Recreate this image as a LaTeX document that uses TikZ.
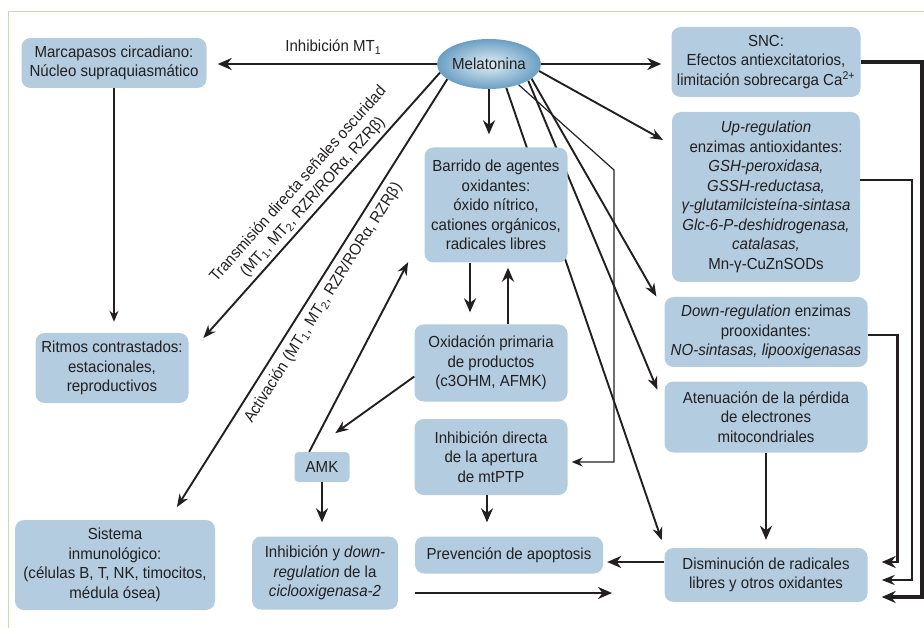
\documentclass[tikz,border=0pt]{standalone}
\usepackage{fontspec}
\setmainfont{Liberation Sans}[FakeStretch=0.94]
\usepackage{tikz}
\usetikzlibrary{arrows.meta,positioning,calc,shapes.geometric}
\definecolor{Ink}{HTML}{231F20}
\definecolor{Pale}{HTML}{B3CCE0}
\definecolor{Frame}{HTML}{C0DFAA}
\definecolor{BallIn}{HTML}{E2EEF6}
\definecolor{BallOut}{HTML}{6A9FC3}
\pgfdeclarelayer{bg}
\pgfsetlayers{bg,main}

\begin{document}
\begin{tikzpicture}[x=1pt,y=-1pt,
  every node/.style={font=\fontsize{16}{19.5}\selectfont,text=Ink},
  box/.style={fill=Pale,rounded corners=9pt,align=center,inner sep=2pt},
  spoke/.style={draw=Ink,line width=1.9pt,-{Stealth[length=13pt,width=10pt]}},
  heavy/.style={draw=Ink,line width=2.9pt,-{Stealth[length=14pt,width=12pt]}},
  slim/.style={draw=Ink,line width=1.2pt,-{Stealth[length=11pt,width=9pt]}}]
\useasboundingbox (0,0) rectangle (924,628);
\draw[Frame,line width=1pt] (8.5,628) -- (8.5,11.5) -- (924,11.5);

\node[ellipse,minimum width=98pt,minimum height=50pt,inner sep=0pt,shading=radial,inner color=BallIn,outer color=BallOut] (mel) at (489,64) {Melatonina};
\node[box,minimum width=185pt,minimum height=50pt] (mar) at (114,63) {Marcapasos circadiano:\\Núcleo supraquiasmático};
\node[box,minimum width=153pt,minimum height=70pt] (rit) at (112,368) {Ritmos contrastados:\\estacionales,\\reproductivos};
\node[box,minimum width=200pt,minimum height=90pt] (inm) at (115,565) {Sistema\\inmunológico:\\(células B, T, NK, timocitos,\\médula ósea)};
\node[box,minimum width=189pt,minimum height=70pt] (snc) at (766,62) {SNC:\\Efectos antiexcitatorios,\\limitación sobrecarga Ca\textsuperscript{2+}};
\node[box,minimum width=188pt,minimum height=170pt] (up) at (766,197) {\textit{Up-regulation}\\enzimas antioxidantes:\\\textit{GSH-peroxidasa,}\\\textit{GSSH-reductasa,}\\\textit{γ-glutamilcisteína-sintasa}\\\textit{Glc-6-P-deshidrogenasa,}\\\textit{catalasas,}\\Mn-γ-CuZnSODs};
\node[box,minimum width=203pt,minimum height=70pt] (down) at (766,332) {\textit{Down-regulation} enzimas\\prooxidantes:\\\textit{NO-sintasas, lipooxigenasas}};
\node[box,minimum width=203pt,minimum height=71pt] (aten) at (766,417) {Atenuación de la pérdida\\de electrones\\mitocondriales};
\node[box,minimum width=203pt,minimum height=54pt] (dism) at (766,575) {Disminución de radicales\\libres y otros oxidantes};
\node[box,minimum width=143pt,minimum height=115pt] (barr) at (496,205) {Barrido de agentes\\oxidantes:\\óxido nítrico,\\cationes orgánicos,\\radicales libres};
\node[box,minimum width=153pt,minimum height=77pt] (oxid) at (491,363) {Oxidación primaria\\de productos\\(c3OHM, AFMK)};
\node[box,minimum width=153pt,minimum height=76pt] (mtp) at (491,457) {Inhibición directa\\de la apertura\\de mtPTP};
\node[box,minimum width=188pt,minimum height=37pt] (prev) at (509,555) {Prevención de apoptosis};
\node[box,minimum width=55pt,minimum height=30pt,rounded corners=4pt] (amk) at (322,467) {AMK};
\node[box,minimum width=146pt,minimum height=73pt] (cox) at (325,573) {Inhibición y \textit{down-}\\\textit{regulation} de la\\\textit{ciclooxigenasa-2}};

\coordinate (kink) at (614,170);
\coordinate (edge) at (922,0);
\coordinate (fa) at (415,593);
\coordinate (fb) at (612,593);

\begin{pgfonlayer}{bg}
\draw[spoke,shorten >=16pt] (mel.-19) -- (down.168);
\draw[spoke,shorten >=18pt] (mel.-23) -- (aten.174);
\draw[spoke,shorten >=8pt] (mel.-54) -- (dism.north west);
\draw[slim,shorten >=4pt] (mel.-35) -- (kink) |- ([yshift=-5pt]mtp.east);
\end{pgfonlayer}

\draw[heavy,shorten >=11pt] (mel.west) -- (mel.west -| mar.east) node[pos=0.45,above=5pt] {Inhibición MT\textsubscript{1}};
\draw[heavy,shorten >=10pt] (mel.east) -- (mel.east -| snc.west);
\draw[spoke,shorten >=10pt] (mel.-8) -- (up);
\draw[heavy,shorten >=13pt] (mel.south) -- (mel.south |- barr.north);
\draw[spoke,shorten >=22pt] (mel.190) -- (rit.10) node[pos=0.47,sloped,above,align=center] {Transmisión directa señales oscuridad\\(MT\textsubscript{1}, MT\textsubscript{2}, RZR/RORα, RZRβ)};
\draw[spoke,shorten >=15pt] (mel.200) -- (inm.40) node[pos=0.49,sloped,below=3pt] {Activación (MT\textsubscript{1}, MT\textsubscript{2}, RZR/RORα, RZRβ)};
\draw[slim,line width=1.5pt,shorten >=11pt] (mar.south) -- (mar.south |- rit.north);

\draw[heavy,shorten >=12pt] ([xshift=-26pt]barr.south) -- ([xshift=-26pt]barr.south |- oxid.north);
\draw[heavy,shorten >=5pt] ([xshift=17pt]oxid.north) -- ([xshift=17pt]oxid.north |- barr.south);
\draw[spoke,shorten >=32pt] (oxid.190) -- (amk.130);
\draw[spoke,shorten >=35pt] (amk.130) -- (barr.200);
\draw[heavy,shorten >=14pt] (amk.south) -- (amk.south |- cox.north);
\draw[heavy,shorten >=14pt] ([xshift=-4pt]mtp.south) -- ([xshift=-4pt]mtp.south |- prev.north);
\draw[heavy,shorten >=8pt] (aten.south) -- (aten.south |- dism.north);
\draw[heavy,shorten >=4pt] ([yshift=13pt]dism.west) -- ([yshift=13pt]dism.west -| prev.east);
\draw[heavy] (fa) -- (fb);

\draw[heavy,line width=3.6pt,shorten >=14pt] (snc.east) -- (snc.east -| edge) |- ([yshift=-22pt]dism.east);
\draw[spoke,line width=2.2pt,shorten >=14pt] ([yshift=17pt]up.east) -- ++(52,0) |- ([yshift=-5pt]dism.east);
\draw[heavy,line width=2.6pt,shorten >=14pt] ([yshift=-3pt]down.east) -- ++(30,0) |- ([yshift=13pt]dism.east);
\end{tikzpicture}
\end{document}
